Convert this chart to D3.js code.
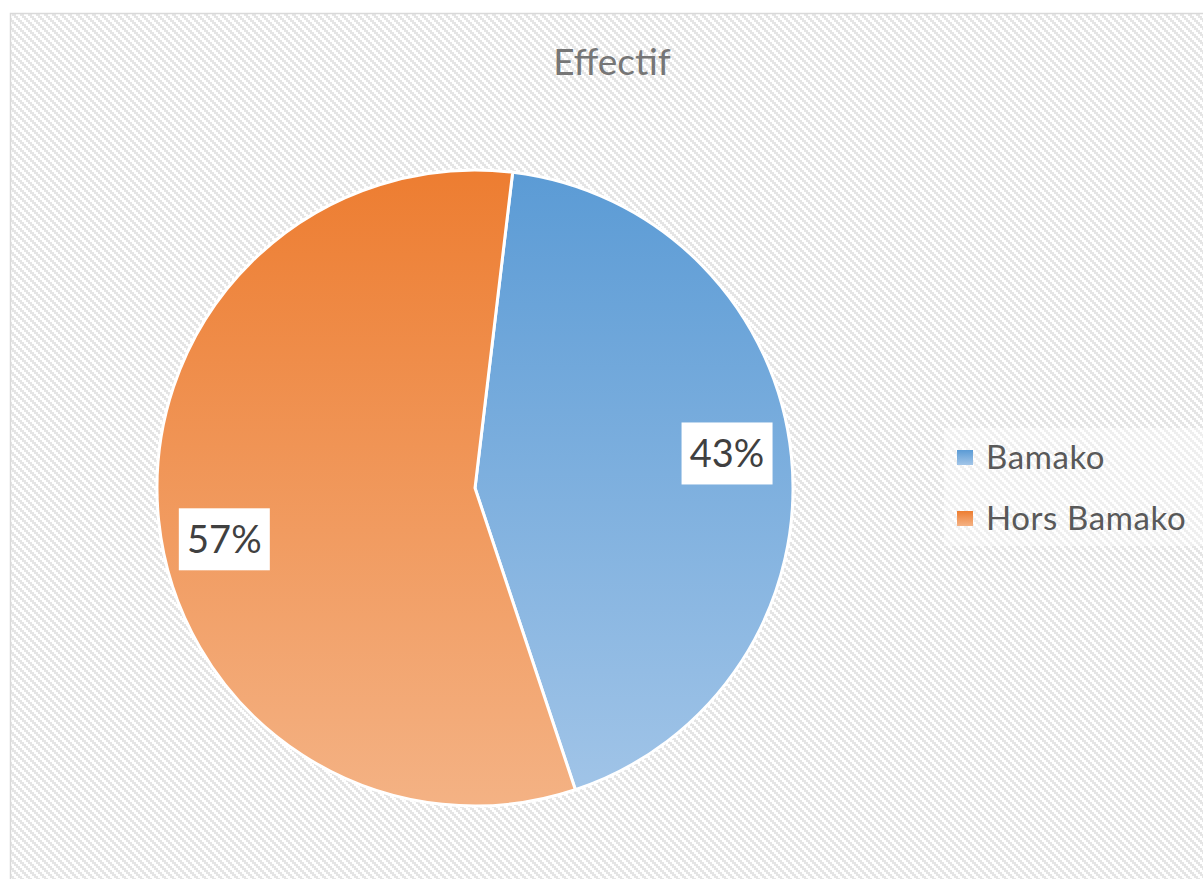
<!DOCTYPE html>
<html>
<head>
<meta charset="utf-8">
<script src="https://cdn.jsdelivr.net/npm/d3@7"></script>
<style>
  html, body { margin: 0; padding: 0; background: #ffffff; }
  svg { display: block; }
</style>
</head>
<body>
<svg id="chart" width="1203" height="879"></svg>
<script>
// Chart data
const title = "Effectif";
const categories = ["Bamako", "Hors Bamako"];
const values = [43, 57];
const percentLabels = ["43%", "57%"];

// Colour ramps per slice: [top, bottom]
const sliceColors = [["#5b9bd5", "#a2c5e8"], ["#ed7d31", "#f4b284"]];

const W = 1203, H = 879;
const svg = d3.select("#chart");
const defs = svg.append("defs");

// Light diagonal weave used as the chart-area background
const pat = defs.append("pattern")
  .attr("id", "weave")
  .attr("patternUnits", "userSpaceOnUse")
  .attr("width", 8).attr("height", 8);
pat.append("rect").attr("width", 8).attr("height", 8).attr("fill", "#ffffff");
[[0, 0], [2, 2], [4, 4], [6, 6], [-2, 6], [8, 0]].forEach(([x, y]) => {
  pat.append("rect").attr("x", x - 2).attr("y", y).attr("width", 4).attr("height", 2).attr("fill", "#e5e5e5");
});
pat.append("rect").attr("x", 6).attr("y", 6).attr("width", 4).attr("height", 2).attr("fill", "#e5e5e5");

// Chart frame
svg.append("rect")
  .attr("x", 10.5).attr("y", 13.5)
  .attr("width", W + 20).attr("height", H + 20)
  .attr("fill", "url(#weave)")
  .attr("stroke", "#d9d9d9").attr("stroke-width", 1.5);

// Title
svg.append("text")
  .attr("x", 612).attr("y", 75)
  .attr("text-anchor", "middle")
  .attr("font-family", "Lato, 'Open Sans', sans-serif")
  .attr("font-size", 37)
  .attr("fill", "#767676")
  .text(title);

// Pie geometry
const cx = 475, cy = 488, R = 318;
const startDeg = 6.8;

categories.forEach((c, i) => {
  const g = defs.append("linearGradient")
    .attr("id", "grad" + i)
    .attr("gradientUnits", "userSpaceOnUse")
    .attr("x1", 0).attr("y1", -R).attr("x2", 0).attr("y2", R);
  g.append("stop").attr("offset", "0%").attr("stop-color", sliceColors[i][0]);
  g.append("stop").attr("offset", "100%").attr("stop-color", sliceColors[i][1]);
});

const pie = d3.pie().sort(null)
  .startAngle(startDeg * Math.PI / 180)
  .endAngle(startDeg * Math.PI / 180 + 2 * Math.PI);
const arcs = pie(values);
const arc = d3.arc().innerRadius(0).outerRadius(R);

const pieG = svg.append("g").attr("transform", `translate(${cx},${cy})`);
pieG.selectAll("path.slice")
  .data(arcs)
  .join("path")
  .attr("class", "slice")
  .attr("d", arc)
  .attr("fill", (d, i) => `url(#grad${i})`)
  .attr("stroke", "#ffffff")
  .attr("stroke-width", 3)
  .attr("stroke-linejoin", "round");

// Data labels in white boxes, placed near the inner end of each slice
const lab = pieG.selectAll("g.lab")
  .data(arcs)
  .join("g")
  .attr("class", "lab")
  .attr("transform", (d, i) => {
    const a = (d.startAngle + d.endAngle) / 2 - (i === 0 ? 2 : 4) * Math.PI / 180;
    const r = R * 0.8;
    return `translate(${r * Math.sin(a)},${-r * Math.cos(a) + (i === 0 ? 0 : 8)})`;
  });
lab.append("rect")
  .attr("x", -45.5).attr("y", -31)
  .attr("width", 91).attr("height", 62)
  .attr("fill", "#ffffff");
lab.append("text")
  .attr("text-anchor", "middle")
  .attr("dy", "0.36em")
  .attr("font-family", "Lato, 'Open Sans', sans-serif")
  .attr("font-size", 38)
  .attr("fill", "#404040")
  .text((d, i) => percentLabels[i]);

// Legend
const legend = svg.append("g");
legend.append("rect")
  .attr("x", 944).attr("y", 428)
  .attr("width", 262).attr("height", 118)
  .attr("fill", "#ffffff").attr("fill-opacity", 0.4);
const legendY = d3.scalePoint().domain(categories).range([457, 518]);
const li = legend.selectAll("g.li")
  .data(categories)
  .join("g")
  .attr("class", "li")
  .attr("transform", d => `translate(957,${legendY(d)})`);
categories.forEach((c, i) => {
  const g = defs.append("linearGradient")
    .attr("id", "lgrad" + i)
    .attr("x1", 0).attr("y1", 0).attr("x2", 0).attr("y2", 1);
  g.append("stop").attr("offset", "0%").attr("stop-color", sliceColors[i][0]);
  g.append("stop").attr("offset", "100%").attr("stop-color", sliceColors[i][1]);
});
li.append("rect")
  .attr("x", 0).attr("y", -7)
  .attr("width", 16).attr("height", 15)
  .attr("fill", (d, i) => `url(#lgrad${i})`);
li.append("text")
  .attr("x", 29).attr("dy", "0.36em")
  .attr("font-family", "Lato, 'Open Sans', sans-serif")
  .attr("font-size", 33)
  .attr("letter-spacing", 0.6)
  .attr("fill", "#595959")
  .text(d => d);
</script>
</body>
</html>
